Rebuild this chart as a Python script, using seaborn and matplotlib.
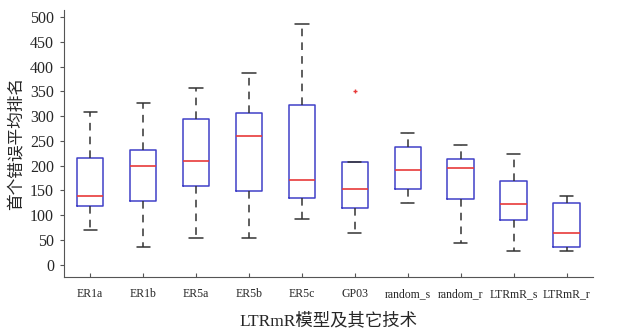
import pandas as pd
import matplotlib.pyplot as plt
import seaborn as sns

# five-number summaries (whisker ends, quartiles, median)
methods = ["ER1a", "ER1b", "ER5a", "ER5b", "ER5c", "GP03",
           "random_s", "random_r", "LTRmR_s", "LTRmR_r"]
low = [69, 36, 54, 54, 92, 63, 125, 44, 28, 28]
q1 = [118, 128, 159, 149, 135, 114, 153, 133, 90, 35]
med = [139, 200, 209, 259, 170, 153, 190, 196, 122, 63]
q3 = [215, 231, 295, 306, 322, 207, 238, 213, 168, 125]
high = [309, 326, 357, 387, 486, 207, 266, 242, 223, 139]
outliers = {"GP03": [351]}

# build samples so the quartiles come out as read
rows = []
for i, m in enumerate(methods):
    top = outliers.get(m, [high[i]])
    vals = [low[i], q1[i], q1[i], med[i], q3[i], q3[i]] + top
    for v in vals:
        rows.append({"method": m, "rank": v})
df = pd.DataFrame(rows)

sns.set_style("ticks")
plt.rcParams["font.family"] = ["Liberation Serif", "Noto Sans CJK SC"]

fig = plt.figure(figsize=(6.19, 3.32), dpi=100)
ax = fig.add_axes([0.103, 0.166, 0.855, 0.805])

sns.boxplot(data=df, x="method", y="rank", order=methods, width=0.5,
            fill=False, color="#4040c8", whis=1.5, linewidth=1.1, ax=ax,
            boxprops={"color": "#4040c8"},
            medianprops={"color": "#e83a3a", "linewidth": 1.2},
            whiskerprops={"color": "#333333", "linestyle": (0, (5, 4)), "linewidth": 1.1},
            capprops={"color": "#333333", "linewidth": 1.1},
            flierprops={"marker": "+", "markeredgecolor": "#e83a3a",
                        "markersize": 3, "markeredgewidth": 1})

ax.set_ylim(-25, 515)
ax.set_xlim(-0.5, 9.5)
ax.set_yticks(range(0, 501, 50))
ax.tick_params(axis="x", direction="in", length=3, color="#555555",
               labelsize=8.5, pad=8)
ax.tick_params(axis="y", direction="out", length=3, color="#555555",
               labelsize=11.5, pad=4)
for s in ["top", "right"]:
    ax.spines[s].set_visible(False)
for s in ["left", "bottom"]:
    ax.spines[s].set_color("#555555")

ax.set_ylabel("首个错误平均排名", fontsize=12)
ax.yaxis.set_label_coords(-0.074, 0.5)
ax.set_xlabel("LTRmR模型及其它技术", fontsize=12.5)
ax.xaxis.set_label_coords(0.5, -0.135)

plt.savefig("out.png", dpi=100)
